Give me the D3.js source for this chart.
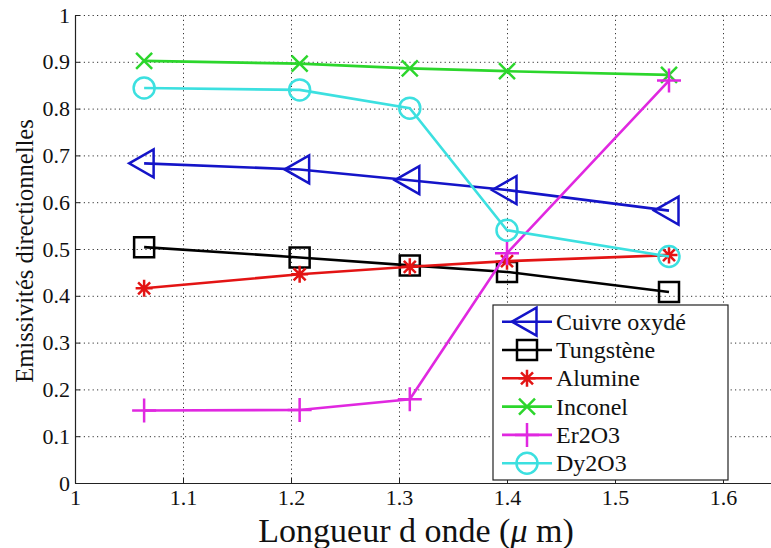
<!DOCTYPE html>
<html><head><meta charset="utf-8">
<script src="https://cdn.jsdelivr.net/npm/d3@7/dist/d3.min.js"></script>
<style>svg, svg text, svg tspan { font-family: "Liberation Serif"; }</style>
</head><body style="margin:0;background:#fff">
<svg id="c" width="771" height="548" font-family="Liberation Serif"></svg>
<script>
// ---- data ----
const wavelengths = [1.064, 1.208, 1.31, 1.4, 1.55];
const cuivreOxyde = [0.683, 0.670, 0.647, 0.626, 0.582];
const tungstene   = [0.504, 0.482, 0.465, 0.451, 0.408];
const alumine     = [0.416, 0.446, 0.462, 0.474, 0.487];
const inconel     = [0.902, 0.896, 0.886, 0.880, 0.872];
const er2o3       = [0.155, 0.156, 0.179, 0.491, 0.860];
const dy2o3       = [0.844, 0.840, 0.801, 0.540, 0.484];
const seriesNames = ["Cuivre oxydé", "Tungstène", "Alumine", "Inconel", "Er2O3", "Dy2O3"];
const xTicks = [1, 1.1, 1.2, 1.3, 1.4, 1.5, 1.6];
const yTicks = [0, 0.1, 0.2, 0.3, 0.4, 0.5, 0.6, 0.7, 0.8, 0.9, 1];
const xLabelParts = ["Longueur d onde (", "\u03BC", " m)"];
const yLabel = "Emissivités directionnelles";

// ---- styles ----
const seriesValues = [cuivreOxyde, tungstene, alumine, inconel, er2o3, dy2o3];
const colors = ["#1414c8", "#000000", "#e31414", "#2cd62c", "#e028e0", "#3ce0e0"];
const markerTypes = ["triangleLeft", "square", "star", "cross", "plus", "circle"];
const FONT = "Liberation Serif";

const svg = d3.select("#c");
const L = 75, T = 15, B = 483, R = 777;
const x = d3.scaleLinear().domain([1, 1.65]).range([L, R]);
const y = d3.scaleLinear().domain([0, 1]).range([B, T]);

function txt(sel, size) {
  return sel.attr("font-family", FONT).attr("font-size", size)
    .style("font-family", FONT).style("font-size", size + "px");
}

// grid
const gx = svg.append("g").attr("transform", `translate(0,${B})`)
  .call(d3.axisBottom(x).tickValues(xTicks).tickSize(-(B - T)).tickFormat(""));
gx.select(".domain").remove();
gx.selectAll("line").attr("stroke", "#333").attr("stroke-dasharray", "1.2,3.2");
const gy = svg.append("g").attr("transform", `translate(${L},0)`)
  .call(d3.axisLeft(y).tickValues(yTicks).tickSize(-(R - L)).tickFormat(""));
gy.select(".domain").remove();
gy.selectAll("line").attr("stroke", "#333").attr("stroke-dasharray", "1.2,3.2");

// axes
const ax = svg.append("g").attr("transform", `translate(0,${B})`)
  .call(d3.axisBottom(x).tickValues(xTicks).tickSizeInner(-5).tickSizeOuter(0).tickPadding(6).tickFormat(d => String(d)));
const ay = svg.append("g").attr("transform", `translate(${L},0)`)
  .call(d3.axisLeft(y).tickValues(yTicks).tickSizeInner(-5).tickSizeOuter(0).tickPadding(5).tickFormat(d => String(d)));
[ax, ay].forEach(a => {
  txt(a, 22);
  txt(a.selectAll("text"), 22).attr("fill", "#111");
  a.selectAll("line").attr("stroke", "#222");
  a.select(".domain").attr("stroke", "#222").attr("stroke-width", 1.2);
});

// axis labels
const xl = txt(svg.append("text"), 34).attr("x", 416).attr("y", 542).attr("text-anchor", "middle").attr("fill", "#111");
xl.selectAll("tspan").data(xLabelParts).join("tspan")
  .style("font-style", (d, i) => i === 1 ? "italic" : "normal")
  .text(d => d);
txt(svg.append("text"), 24.5).attr("transform", `translate(33,${(T + B) / 2 + 2}) rotate(-90)`)
  .attr("text-anchor", "middle").attr("fill", "#111")
  .text(yLabel);

// markers
function markerPath(type) {
  switch (type) {
    case "triangleLeft": return "M-15,0L9.5,-14L9.5,14Z";
    case "square": return "M-10,-10H10V10H-10Z";
    case "star": return "M-8.5,0H8.5M0,-8.5V8.5M-6,-6L6,6M-6,6L6,-6";
    case "cross": return "M-8,-8L8,8M-8,8L8,-8";
    case "plus": return "M-12,0H12M0,-12V12";
    default: return null;
  }
}
function drawMarker(g, type, color) {
  if (type === "circle") {
    g.append("circle").attr("r", 10.5).attr("fill", "none").attr("stroke", color).attr("stroke-width", 2.5);
  } else {
    g.append("path").attr("d", markerPath(type)).attr("fill", "none")
      .attr("stroke", color).attr("stroke-width", 2.5).attr("stroke-linejoin", "miter");
  }
}

const line = d3.line().x((d, i) => x(wavelengths[i])).y(d => y(d));
seriesValues.forEach((vals, s) => {
  const g = svg.append("g");
  g.append("path").attr("d", line(vals)).attr("fill", "none")
    .attr("stroke", colors[s]).attr("stroke-width", 2.6);
  vals.forEach((v, i) => {
    const m = g.append("g").attr("transform", `translate(${x(wavelengths[i])},${y(v)})`);
    drawMarker(m, markerTypes[s], colors[s]);
  });
});

// legend
const lg = svg.append("g").attr("transform", "translate(493,305)");
lg.append("rect").attr("width", 235).attr("height", 175).attr("fill", "#fff").attr("stroke", "#222").attr("stroke-width", 1.2);
seriesNames.forEach((name, s) => {
  const yy = 16.7 + s * 28.3;
  lg.append("line").attr("x1", 9).attr("x2", 59).attr("y1", yy).attr("y2", yy)
    .attr("stroke", colors[s]).attr("stroke-width", 2.6);
  drawMarker(lg.append("g").attr("transform", `translate(34,${yy})`), markerTypes[s], colors[s]);
  txt(lg.append("text"), 24).attr("x", 63).attr("y", yy).attr("dy", "0.34em")
    .attr("fill", "#111").text(name);
});
</script>
</body></html>
